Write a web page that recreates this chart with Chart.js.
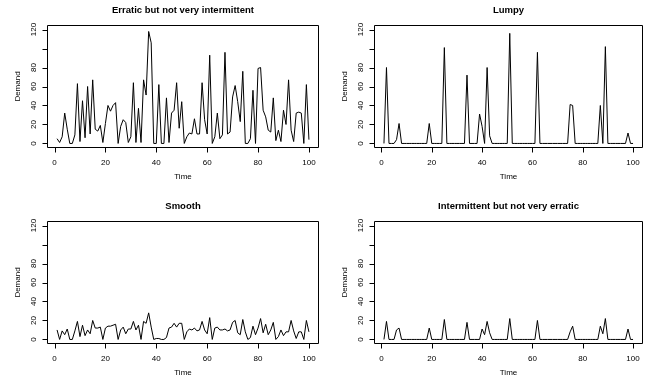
<!DOCTYPE html>
<html><head><meta charset="utf-8">
<script src="https://cdn.jsdelivr.net/npm/chart.js@4/dist/chart.umd.min.js"></script>
<style>
html,body{margin:0;padding:0;background:#fff;}
#wrap{position:relative;width:645px;height:385px;overflow:hidden;}
canvas{position:absolute;left:0;top:0;}
</style>
</head><body><div id="wrap">
<canvas id="c0" width="645" height="385"></canvas>
<canvas id="c1" width="645" height="385"></canvas>
<canvas id="c2" width="645" height="385"></canvas>
<canvas id="c3" width="645" height="385"></canvas>
</div>
<script>
const time = [1,2,3,4,5,6,7,8,9,10,11,12,13,14,15,16,17,18,19,20,21,22,23,24,25,26,27,28,29,30,31,32,33,34,35,36,37,38,39,40,41,42,43,44,45,46,47,48,49,50,51,52,53,54,55,56,57,58,59,60,61,62,63,64,65,66,67,68,69,70,71,72,73,74,75,76,77,78,79,80,81,82,83,84,85,86,87,88,89,90,91,92,93,94,95,96,97,98,99,100];
const erratic = [5,1,7,32,15,0,0,9,63,2, 45,6,60,10,67,15,13,19,1,21, 40,34,40,43,0,18,25,22,1,7, 64,1,37,1,67,51,118,106,0,0, 62,0,0,48,1,32,35,64,16,44, 0,7,11,10,26,10,10,64,25,10, 93,0,7,32,5,9,96,10,12,49, 61,44,23,76,0,0,5,56,0,79, 80,35,28,14,12,48,3,14,2,35, 20,67,14,2,32,33,32,0,62,4];
const lumpy = [0,80,0,0,0,4,21,0,0,0, 0,0,0,0,0,0,0,0,21,0, 0,0,0,0,101,0,0,0,0,0, 0,0,0,72,0,0,0,0,31,18, 0,80,8,0,0,0,0,0,0,0, 116,0,0,0,0,0,0,0,0,0, 0,96,0,0,0,0,0,0,0,0, 0,0,0,0,41,40,0,0,0,0, 0,0,0,0,0,0,40,0,102,0, 0,0,0,0,0,0,0,11,0,0];
const smooth = [10,0,9,5,11,0,0,9,19,3, 15,4,10,6,20,12,12,13,0,12, 14,14,15,16,0,10,13,6,11,11, 19,10,15,0,19,17,28,13,0,1, 1,0,0,2,12,13,17,13,17,17, 0,8,11,10,12,9,10,19,10,6, 23,0,12,13,10,10,11,9,10,18, 20,7,5,21,8,0,2,14,5,12, 22,7,16,5,10,18,0,3,10,4, 8,8,20,9,1,8,8,0,20,8];
const intermittent = [0,19,0,0,0,10,12,0,0,0, 0,0,0,0,0,0,0,0,12,0, 0,0,0,0,21,0,0,0,0,0, 0,0,0,18,0,0,0,0,0,11, 5,19,7,0,0,0,0,0,0,0, 22,0,0,0,0,0,0,0,0,0, 0,20,0,0,0,0,0,0,0,0, 0,0,0,0,8,14,0,0,0,0, 0,0,0,0,0,0,14,6,22,0, 0,0,0,0,0,0,0,11,0,0];
const panelTitles = ["Erratic but not very intermittent","Lumpy","Smooth","Intermittent but not very erratic"];
const xTickValues = [0,20,40,60,80,100];
const xTickLabels = ["0","20","40","60","80","100"];
const yTickValues = [0,20,40,60,80,100,120];
const yTickLabels = ["0","20","40","60","80","","120"];
const xAxisTitle = "Time";
const yAxisTitle = "Demand";

const seriesList = [erratic, lumpy, smooth, intermittent];
// plot boxes (page pixels): left, right, top, bottom
const boxes = [
  [47, 319, 25, 148],
  [374, 643, 25, 148],
  [47, 319, 221, 344],
  [374, 643, 221, 344]
];
const FONT = '"Liberation Sans", Arial, Helvetica, sans-serif';

const rAxes = {
  id: 'rAxes',
  afterDraw(chart, args, opts) {
    const {ctx, chartArea: a, scales: {x, y}} = chart;
    ctx.save();
    ctx.strokeStyle = '#000';
    ctx.fillStyle = '#000';
    ctx.lineWidth = 1;
    const L = Math.round(a.left) + 0.5, R = Math.round(a.right) - 0.5;
    const T = Math.round(a.top) + 0.5, B = Math.round(a.bottom) - 0.5;
    ctx.beginPath();
    ctx.rect(L, T, R - L, B - T);
    ctx.stroke();
    ctx.font = '8px ' + FONT;
    ctx.textAlign = 'center';
    ctx.textBaseline = 'middle';
    ctx.beginPath();
    xTickValues.forEach(v => {
      const px = Math.round(x.getPixelForValue(v)) + 0.5;
      ctx.moveTo(px, B); ctx.lineTo(px, B + 5);
    });
    yTickValues.forEach(v => {
      const py = Math.round(y.getPixelForValue(v)) + 0.5;
      ctx.moveTo(L, py); ctx.lineTo(L - 5, py);
    });
    ctx.stroke();
    xTickValues.forEach((v, k) => {
      ctx.fillText(xTickLabels[k], x.getPixelForValue(v), B + 15);
    });
    yTickValues.forEach((v, k) => {
      if (!yTickLabels[k]) return;
      ctx.save();
      ctx.translate(L - 14, y.getPixelForValue(v));
      ctx.rotate(-Math.PI / 2);
      ctx.fillText(yTickLabels[k], 0, 0);
      ctx.restore();
    });
    ctx.fillText(xAxisTitle, (L + R) / 2, B + 29);
    ctx.save();
    ctx.translate(L - 30, (T + B) / 2);
    ctx.rotate(-Math.PI / 2);
    ctx.fillText(yAxisTitle, 0, 0);
    ctx.restore();
    ctx.font = 'bold 9.5px ' + FONT;
    ctx.fillText(opts.title, (L + R) / 2, T - 15);
    ctx.restore();
  }
};

seriesList.forEach((data, i) => {
  const [l, r, t, b] = boxes[i];
  new Chart(document.getElementById('c' + i), {
    type: 'line',
    data: {
      labels: time,
      datasets: [{
        data: time.map((tt, k) => ({x: tt, y: data[k]})),
        borderColor: '#000',
        borderWidth: 1,
        pointRadius: 0,
        tension: 0,
        fill: false
      }]
    },
    options: {
      responsive: false,
      animation: false,
      devicePixelRatio: 1,
      layout: {padding: {left: l, right: 645 - r, top: t, bottom: 385 - b}},
      plugins: {legend: {display: false}, tooltip: {enabled: false}, title: {display: false}, rAxes: {title: panelTitles[i]}},
      scales: {
        x: {type: 'linear', display: false, min: -2.96, max: 103.96},
        y: {type: 'linear', display: false, min: -4.8, max: 124.8}
      }
    },
    plugins: [rAxes]
  });
});
</script>
</body></html>
